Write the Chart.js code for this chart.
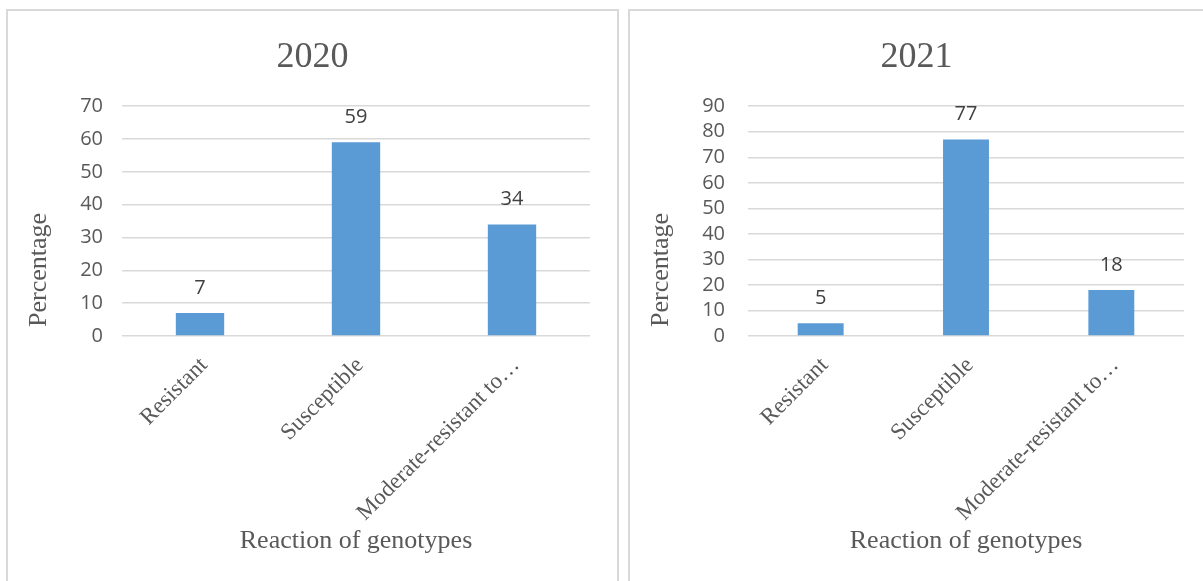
<!DOCTYPE html>
<html lang="en">
<head>
    <meta charset="UTF-8">
    <title>Reaction of genotypes 2020 / 2021</title>
    <script src="https://cdn.jsdelivr.net/npm/chart.js@4.4.0/dist/chart.umd.min.js"></script>
    <style>
        body {
            margin: 0;
            background: #fff;
            width: 1203px;
            height: 581px;
            overflow: hidden;
            position: relative;
        }
        .panel {
            position: absolute;
            border: 2px solid #d9d9d9;
            box-sizing: border-box;
        }
        .chart-box {
            position: absolute;
        }
    </style>
</head>
<body>
    <div class="panel" style="left:6px; top:9px; width:613px; height:590px;"></div>
    <div class="panel" style="left:628px; top:9px; width:600px; height:590px;"></div>

    <div class="chart-box" style="left:8px; top:11px; width:609px; height:570px;">
        <canvas id="chart-2020"></canvas>
    </div>
    <div class="chart-box" style="left:630px; top:11px; width:573px; height:570px;">
        <canvas id="chart-2021"></canvas>
    </div>

    <script>
        // Data
        const categories = ['Resistant', 'Susceptible', 'Moderate-resistant to\u2026'];
        const values2020 = [7, 59, 34];
        const values2021 = [5, 77, 18];
        const yMax2020 = 70;
        const yMax2021 = 90;

        const grey = '#595959';
        const barColor = '#5b9bd5';
        const serif = '"Liberation Serif", "Times New Roman", serif';
        const sans = '"Open Sans", "Noto Sans", sans-serif';

        // value labels above the bars
        const valueLabels = {
            id: 'valueLabels',
            afterDatasetsDraw(chart) {
                const ctx = chart.ctx;
                ctx.save();
                ctx.font = '20px ' + sans;
                ctx.fillStyle = '#404040';
                ctx.textAlign = 'center';
                ctx.textBaseline = 'middle';
                chart.getDatasetMeta(0).data.forEach((bar, i) => {
                    ctx.fillText(chart.data.datasets[0].data[i], bar.x, bar.y - 25);
                });
                ctx.restore();
            }
        };

        // y axis title, sits low like in the original (not centred on the axis)
        const yTitle = {
            id: 'yTitle',
            afterDraw(chart, args, opts) {
                const ctx = chart.ctx;
                ctx.save();
                ctx.font = '26px ' + serif;
                ctx.fillStyle = grey;
                ctx.textAlign = 'left';
                ctx.textBaseline = 'middle';
                ctx.translate(opts.x, chart.chartArea.bottom - 9);
                ctx.rotate(-Math.PI / 2);
                ctx.fillText('Percentage', 0, 0);
                ctx.restore();
            }
        };

        function makeChart(id, title, values, yMax, yWidth, tickPad, sidePad, barPct) {
            return new Chart(document.getElementById(id), {
                type: 'bar',
                data: {
                    labels: categories,
                    datasets: [{
                        data: values,
                        backgroundColor: barColor,
                        categoryPercentage: 1,
                        barPercentage: barPct
                    }]
                },
                plugins: [valueLabels, yTitle],
                options: {
                    responsive: true,
                    maintainAspectRatio: false,
                    animation: false,
                    layout: { padding: { left: sidePad, right: sidePad, top: 0, bottom: 0 } },
                    plugins: {
                        legend: { display: false },
                        tooltip: { enabled: false },
                        title: {
                            display: true,
                            text: title,
                            color: grey,
                            font: { family: serif, size: 36, weight: 'normal' },
                            padding: { top: 25, bottom: 27 }
                        },
                        yTitle: { x: 31 }
                    },
                    scales: {
                        x: {
                            grid: { display: false },
                            border: { display: false },
                            ticks: {
                                color: grey,
                                font: { family: serif, size: 23 },
                                minRotation: 45,
                                maxRotation: 45,
                                autoSkip: false,
                                padding: 8,
                                labelOffset: 4
                            },
                            title: {
                                display: true,
                                text: 'Reaction of genotypes',
                                color: grey,
                                font: { family: serif, size: 26 },
                                padding: { top: 0, bottom: 24 }
                            },
                            afterFit(scale) { scale.height = 245; }
                        },
                        y: {
                            min: 0,
                            max: yMax,
                            grid: { color: '#d9d9d9', lineWidth: 1.5, drawTicks: false },
                            border: { display: false },
                            ticks: {
                                stepSize: 10,
                                autoSkip: false,
                                color: grey,
                                font: { family: sans, size: 20 },
                                padding: tickPad
                            },
                            afterFit(scale) { scale.width = yWidth; }
                        }
                    }
                }
            });
        }

        // plot left edge = sidePad + yWidth (114 and 118 in canvas px)
        makeChart('chart-2020', '2020', values2020, yMax2020, 87, 19, 27, 0.31);
        makeChart('chart-2021', '2021', values2021, yMax2021, 99, 23, 19, 0.316);
    </script>
</body>
</html>
